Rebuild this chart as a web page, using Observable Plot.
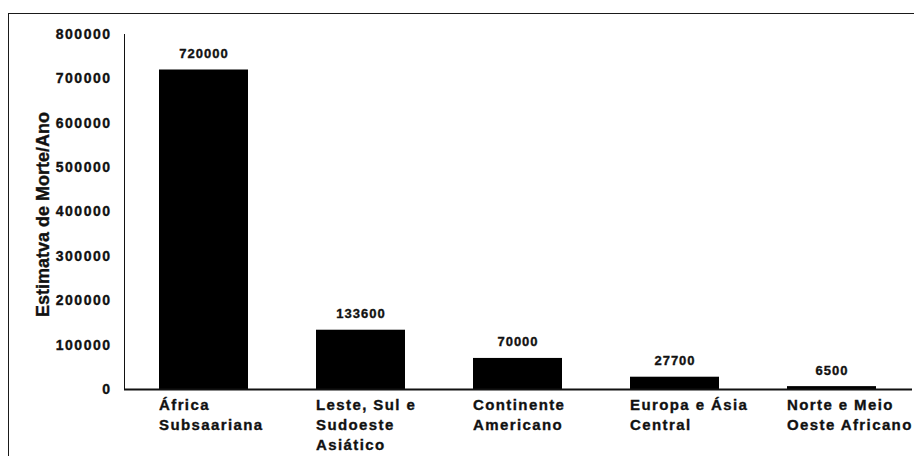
<!DOCTYPE html>
<html>
<head>
<meta charset="utf-8">
<script src="https://cdn.jsdelivr.net/npm/d3@7"></script>
<script src="https://cdn.jsdelivr.net/npm/@observablehq/plot@0.6"></script>
<style>
  html, body { margin: 0; padding: 0; background: #fff; }
  #wrap { position: relative; width: 914px; height: 456px; overflow: hidden; }
  #border { position: absolute; left: 8px; top: 13px; width: 920px; height: 460px;
            border-top: 1.5px solid #1a1a1a; border-left: 1.5px solid #1a1a1a; pointer-events: none; }
  #chart svg text { stroke: #111; stroke-width: 0.35px; }
</style>
</head>
<body>
<div id="wrap"><div id="chart"></div><div id="border"></div></div>
<script>
const regions = [
  "África\nSubsaariana",
  "Leste, Sul e\nSudoeste\nAsiático",
  "Continente\nAmericano",
  "Europa e Ásia\nCentral",
  "Norte e Meio\nOeste Africano"
];
const deaths = [720000, 133600, 70000, 27700, 6500];
const yTicks = [0, 100000, 200000, 300000, 400000, 500000, 600000, 700000, 800000];
const yTitle = "Estimatva de Morte/Ano";

const data = regions.map((r, i) => ({region: r, deaths: deaths[i]}));

const chart = Plot.plot({
  width: 914,
  height: 456,
  marginLeft: 124,
  marginRight: 2,
  marginTop: 34,
  marginBottom: 67,
  style: {
    fontFamily: "'Liberation Sans', Arial, sans-serif",
    fontWeight: "bold",
    fontSize: "14px",
    color: "#111",
    background: "white",
    overflow: "visible"
  },
  x: {domain: regions, paddingInner: 0.43, paddingOuter: 0.215, axis: null},
  y: {domain: [0, 800000], ticks: yTicks, tickFormat: d3.format("d"), tickSize: 0, tickPadding: 13, label: null, line: true},
  marks: [
    Plot.barY(data, {x: "region", y: "deaths", fill: "black"}),
    Plot.ruleY([0], {stroke: "#111", strokeWidth: 2}),
    Plot.text(data, {x: "region", y: "deaths", text: d => String(d.deaths), lineAnchor: "bottom", dy: -12, fontSize: 13, fill: "#111"}),
    Plot.text(data, {x: "region", text: "region", frameAnchor: "bottom", lineAnchor: "top", textAnchor: "start", dx: -45, dy: 6, fontSize: 15, lineHeight: 1.33, fill: "#111"}),
    Plot.text([yTitle], {frameAnchor: "left", rotate: -90, dx: -76, dy: 2.5, lineAnchor: "bottom", textAnchor: "middle", fontSize: 18, fill: "#111"})
  ]
});
document.getElementById("chart").appendChild(chart);
// letter spacing per text group (mimics the horizontally stretched lettering)
const valueStrs = deaths.map(String);
const tickStrs = yTicks.map(String);
d3.select(chart).selectAll("text").each(function() {
  const t = this.textContent;
  let ls;
  if (t === yTitle) ls = "0px";
  else if (valueStrs.includes(t)) ls = "1px";
  else if (tickStrs.includes(t)) ls = "1.5px";
  else ls = "1.4px";
  this.style.letterSpacing = ls;
});
// thicken y-axis line
d3.select(chart).selectAll('[aria-label^="y-axis"] path, [aria-label="y-axis line"] line, [aria-label="y-axis line"]').attr("stroke-width", 2.5);
</script>
</body>
</html>
